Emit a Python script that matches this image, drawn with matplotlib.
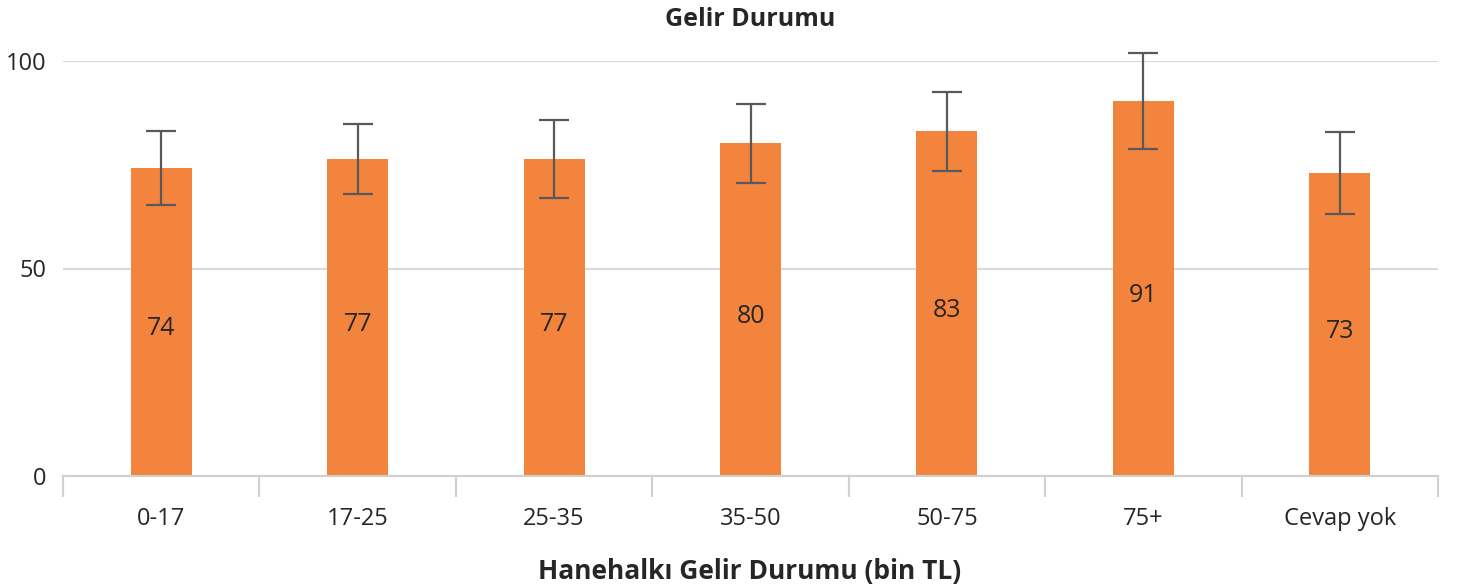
import matplotlib
matplotlib.use("Agg")
import matplotlib.pyplot as plt
import numpy as np

categories = ["0-17", "17-25", "25-35", "35-50", "50-75", "75+", "Cevap yok"]
values = [74.2, 76.4, 76.4, 80.2, 83.1, 90.4, 73.0]
errors = [9.0, 8.4, 9.3, 9.5, 9.5, 11.5, 9.8]
value_labels = ["74", "77", "77", "80", "83", "91", "73"]
yticks = [0, 50, 100]

plt.rcParams['font.family'] = ['Open Sans', 'DejaVu Sans']
text_color = "#262626"

fig = plt.figure(figsize=(14.65, 5.87), dpi=100)
ax = fig.add_axes([63/1465, 1-476/587, (1438-63)/1465, (476-61)/587])

x = np.arange(len(categories))
ax.bar(x, values, width=0.31, color="#F3843D", zorder=2)
ax.errorbar(x, values, yerr=errors, fmt="none", ecolor="#595959",
            elinewidth=1.6, capsize=10.5, capthick=1.6, zorder=3, clip_on=False)

for xi, v, lab in zip(x, values, value_labels):
    ax.text(xi, v/2 - 1.6, lab, ha="center", va="center", fontsize=18, color=text_color, zorder=4)

ax.set_xlim(-0.5, len(categories)-0.5)
ax.set_ylim(0, 100)
ax.set_yticks(yticks)
ax.set_yticklabels([str(t) for t in yticks], fontsize=17, color=text_color)
ax.yaxis.grid(True, color="#d9d9d9", linewidth=1.5, zorder=0)
ax.set_axisbelow(True)
ax.tick_params(axis="y", length=0, pad=12)

ax.set_xticks(x)
ax.set_xticklabels(categories, fontsize=17, color=text_color)
ax.tick_params(axis="x", which="major", length=0, pad=22)
ax.set_xticks(np.arange(-0.5, len(categories), 1.0), minor=True)
ax.tick_params(axis="x", which="minor", length=15, color="#d0d0d0", width=1.5)

for s in ["top", "right", "left"]:
    ax.spines[s].set_visible(False)
ax.spines["bottom"].set_color("#d0d0d0")
ax.spines["bottom"].set_linewidth(1.5)

fig.text(750/1465, 1-19/587, "Gelir Durumu", ha="center", va="center",
         fontsize=18, fontweight="bold", color=text_color)
fig.text(750/1465, 1-571/587, "Hanehalkı Gelir Durumu (bin TL)", ha="center", va="center",
         fontsize=19, fontweight="bold", color=text_color)

fig.savefig("out.png", dpi=100)
